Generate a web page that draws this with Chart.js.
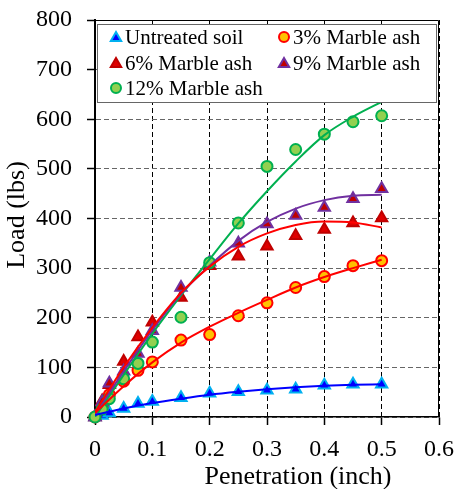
<!DOCTYPE html>
<html>
<head>
<meta charset="utf-8">
<script src="https://cdn.jsdelivr.net/npm/chart.js@4"></script>
<style>
  html, body { margin: 0; padding: 0; background: #fff; }
</style>
</head>
<body>
<canvas id="cbr" width="458" height="489"></canvas>
<script>
// penetration (inch) at each reading
const pen = [0, 0.0125, 0.025, 0.05, 0.075, 0.1, 0.15, 0.2, 0.25, 0.3, 0.35, 0.4, 0.45, 0.5];
// load (lbs) readings
const untreated = [0, 3, 8, 17, 27, 31, 39, 48, 51, 54, 56, 64, 66, 66];
const ash3 = [0, 22, 45, 72, 94, 111, 155, 166, 204, 230, 261, 283, 305, 315];
const ash6 = [0, 32, 65, 112, 161, 191, 241, 305, 324, 344, 365, 378, 391, 401];
const ash9 = [0, 30, 68, 92, 128, 174, 261, 312, 350, 389, 406, 422, 440, 460];
const ash12 = [0, 16, 37, 77, 108, 151, 201, 311, 391, 505, 539, 570, 595, 607];

// trend curves
const fitPen = [0, 0.05, 0.1, 0.15, 0.2, 0.25, 0.3, 0.35, 0.4, 0.45, 0.5];
const fitU = [4, 17, 28, 37, 45, 51, 56, 60, 63, 65, 66];
const fit3 = [8, 62, 110, 150, 182, 210, 236, 261, 282, 300, 317];
const fit6 = [10, 100, 180, 250, 303, 343, 370, 387, 394, 392, 382];
const fit9 = [5, 92, 175, 248, 305, 355, 393, 420, 437, 446, 448];
const fit12 = [0, 85, 168, 245, 318, 390, 455, 515, 568, 605, 635];

const xTicks = [0, 0.1, 0.2, 0.3, 0.4, 0.5, 0.6];
const yTicks = [0, 100, 200, 300, 400, 500, 600, 700, 800];

const serif = "'Liberation Serif', 'Times New Roman', serif";

const series = [
  { label: 'Untreated soil', shape: 'triangle', fill: '#0000FF', edge: '#00B0F0', line: '#0000FF', ys: untreated, fit: fitU, order: 5 },
  { label: '3% Marble ash', shape: 'circle', fill: '#FFC000', edge: '#FF0000', line: '#FF0000', ys: ash3, fit: fit3, order: 4 },
  { label: '6% Marble ash', shape: 'triangle', fill: '#E00000', edge: '#C00000', line: '#FF0000', ys: ash6, fit: fit6, order: 3 },
  { label: '9% Marble ash', shape: 'triangle', fill: '#C00000', edge: '#7030A0', line: '#7030A0', ys: ash9, fit: fit9, order: 2 },
  { label: '12% Marble ash', shape: 'circle', fill: '#92D050', edge: '#00B050', line: '#00B050', ys: ash12, fit: fit12, order: 1 }
];

function pts(xs, ys) {
  return xs.map((x, i) => ({ x: x, y: ys[i] }));
}

const datasets = [];
series.forEach(s => {
  datasets.push({
    label: s.label,
    data: pts(pen, s.ys),
    showLine: false,
    pointStyle: s.shape,
    pointRadius: s.shape === 'triangle' ? 6.5 : 5.5,
    pointBackgroundColor: s.fill,
    pointBorderColor: s.edge,
    pointBorderWidth: 2,
    order: s.order,
    clip: false
  });
});
series.forEach(s => {
  datasets.push({
    label: s.label + ' trend',
    data: pts(fitPen, s.fit),
    showLine: true,
    pointRadius: 0,
    borderColor: s.line,
    borderWidth: 2,
    cubicInterpolationMode: 'monotone',
    order: 0
  });
});

function marker(ctx, shape, x, y, r, fill, edge) {
  ctx.beginPath();
  if (shape === 'circle') {
    ctx.arc(x, y, r, 0, Math.PI * 2);
  } else {
    ctx.moveTo(x, y - r);
    ctx.lineTo(x + r * Math.sin(Math.PI * 2 / 3), y + r / 2);
    ctx.lineTo(x - r * Math.sin(Math.PI * 2 / 3), y + r / 2);
    ctx.closePath();
  }
  ctx.fillStyle = fill;
  ctx.fill();
  ctx.lineWidth = 2;
  ctx.strokeStyle = edge;
  ctx.stroke();
}

const extras = {
  id: 'extras',
  afterDraw(chart) {
    const { ctx, chartArea: a } = chart;
    ctx.save();
    // top and right frame
    ctx.strokeStyle = '#000';
    ctx.lineWidth = 1;
    ctx.beginPath();
    ctx.moveTo(a.left, a.top + 0.5);
    ctx.lineTo(a.right - 0.5, a.top + 0.5);
    ctx.lineTo(a.right - 0.5, a.bottom);
    ctx.stroke();

    // axis titles
    ctx.fillStyle = '#000';
    ctx.font = '26px ' + serif;
    ctx.textAlign = 'center';
    ctx.textBaseline = 'middle';
    ctx.fillText('Penetration (inch)', 298, 477);
    ctx.save();
    ctx.translate(17, 215);
    ctx.rotate(-Math.PI / 2);
    ctx.fillText('Load (lbs)', 0, 0);
    ctx.restore();

    // legend box
    ctx.fillStyle = '#fff';
    ctx.fillRect(97, 24, 340, 78);
    ctx.strokeStyle = '#666';
    ctx.strokeRect(97.5, 24.5, 339, 78);
    const spots = [[116, 37], [284, 37], [116, 63], [284, 63], [116, 88]];
    ctx.font = '21px ' + serif;
    ctx.textAlign = 'left';
    series.forEach((s, i) => {
      const [mx, my] = spots[i];
      marker(ctx, s.shape, mx, my + (s.shape === 'triangle' ? 1 : 0), s.shape === 'triangle' ? 6 : 5, s.fill, s.edge);
      ctx.fillStyle = '#000';
      ctx.fillText(s.label, mx + 9, my + 1);
    });
    ctx.restore();
  }
};

new Chart(document.getElementById('cbr'), {
  type: 'scatter',
  data: { datasets: datasets },
  options: {
    responsive: false,
    animation: false,
    devicePixelRatio: 1,
    layout: { padding: { top: 20, right: 19, left: 0, bottom: 0 } },
    plugins: { legend: { display: false }, tooltip: { enabled: false } },
    scales: {
      x: {
        type: 'linear',
        min: 0,
        max: 0.6,
        afterBuildTicks: sc => { sc.ticks = xTicks.map(v => ({ value: v })); },
        afterFit: sc => { sc.height = 72; sc.paddingLeft = 0; sc.paddingRight = 0; },
        ticks: {
          color: '#000',
          font: { family: serif, size: 24 },
          padding: 10,
          maxRotation: 0,
          callback: v => (v === 0 ? '0' : Number(v).toFixed(1))
        },
        grid: { color: '#000', lineWidth: 1, tickLength: 8, tickColor: '#000', tickWidth: 1.5, tickBorderDash: [] },
        border: { display: true, color: '#000', width: 1.5, dash: [5, 3] }
      },
      y: {
        min: 0,
        max: 800,
        afterBuildTicks: sc => { sc.ticks = yTicks.map(v => ({ value: v })); },
        afterFit: sc => { sc.width = 95; sc.paddingTop = 0; sc.paddingBottom = 0; },
        ticks: {
          color: '#000',
          font: { family: serif, size: 24 },
          padding: 15
        },
        grid: { color: '#666', lineWidth: 1, tickLength: 8, tickColor: '#000', tickWidth: 1.5, tickBorderDash: [] },
        border: { display: true, color: '#000', width: 2, dash: [5, 3] }
      }
    }
  },
  plugins: [extras]
});
</script>
</body>
</html>
